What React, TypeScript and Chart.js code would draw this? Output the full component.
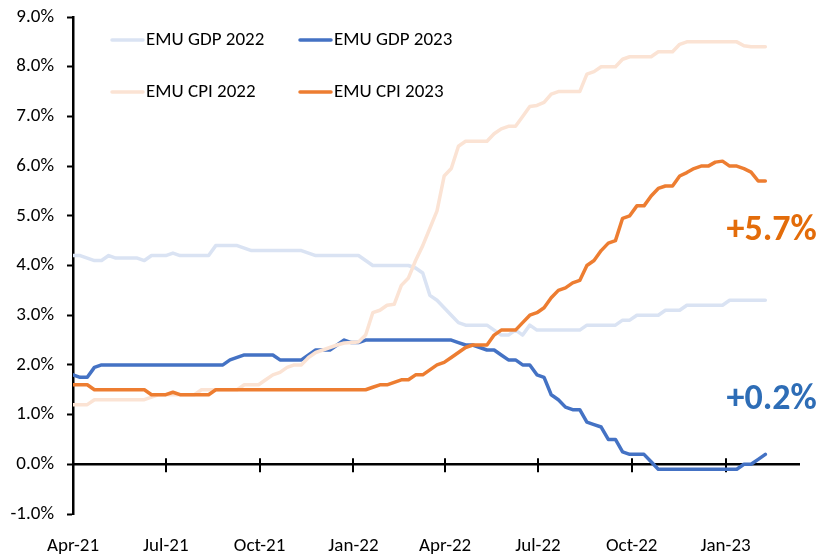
import React, { useEffect, useRef } from "react";
import { Chart, registerables } from "chart.js";

Chart.register(...registerables);

const FONT = "Carlito, Calibri, 'Liberation Sans Narrow', 'Liberation Sans', sans-serif";

const startDate = "2021-04-01";
const tickDates = ["2021-04-01", "2021-07-01", "2021-10-01", "2022-01-01", "2022-04-01", "2022-07-01", "2022-10-01", "2023-01-01"];
const tickLabels = ["Apr-21", "Jul-21", "Oct-21", "Jan-22", "Apr-22", "Jul-22", "Oct-22", "Jan-23"];
const axisEndDate = "2023-03-15";

const seriesLabels = ["EMU GDP 2022", "EMU GDP 2023", "EMU CPI 2022", "EMU CPI 2023"];
const seriesColors = ["#DAE3F3", "#4472C4", "#FBE3D4", "#ED7D31"];

const gdp2022 = [
  4.2, 4.2, 4.15, 4.1, 4.1, 4.2, 4.15, 4.15, 4.15, 4.15,
  4.1, 4.2, 4.2, 4.2, 4.25, 4.2, 4.2, 4.2, 4.2, 4.2,
  4.4, 4.4, 4.4, 4.4, 4.35, 4.3, 4.3, 4.3, 4.3, 4.3,
  4.3, 4.3, 4.3, 4.25, 4.2, 4.2, 4.2, 4.2, 4.2, 4.2,
  4.2, 4.1, 4.0, 4.0, 4.0, 4.0, 4.0, 4.0, 3.95, 3.85,
  3.4, 3.3, 3.15, 3.0, 2.85, 2.8, 2.8, 2.8, 2.8, 2.7,
  2.6, 2.6, 2.7, 2.6, 2.8, 2.7, 2.7, 2.7, 2.7, 2.7,
  2.7, 2.7, 2.8, 2.8, 2.8, 2.8, 2.8, 2.9, 2.9, 3.0,
  3.0, 3.0, 3.0, 3.1, 3.1, 3.1, 3.2, 3.2, 3.2, 3.2,
  3.2, 3.2, 3.3, 3.3, 3.3, 3.3, 3.3, 3.3,
];

const gdp2023 = [
  1.8, 1.75, 1.75, 1.95, 2.0, 2.0, 2.0, 2.0, 2.0, 2.0,
  2.0, 2.0, 2.0, 2.0, 2.0, 2.0, 2.0, 2.0, 2.0, 2.0,
  2.0, 2.0, 2.1, 2.15, 2.2, 2.2, 2.2, 2.2, 2.2, 2.1,
  2.1, 2.1, 2.1, 2.2, 2.3, 2.3, 2.3, 2.4, 2.5, 2.45,
  2.45, 2.5, 2.5, 2.5, 2.5, 2.5, 2.5, 2.5, 2.5, 2.5,
  2.5, 2.5, 2.5, 2.5, 2.45, 2.4, 2.4, 2.35, 2.3, 2.3,
  2.2, 2.1, 2.1, 2.0, 2.0, 1.8, 1.75, 1.4, 1.3, 1.15,
  1.1, 1.1, 0.85, 0.8, 0.75, 0.5, 0.5, 0.25, 0.2, 0.2,
  0.2, 0.05, -0.1, -0.1, -0.1, -0.1, -0.1, -0.1, -0.1, -0.1,
  -0.1, -0.1, -0.1, -0.1, 0.0, 0.0, 0.1, 0.2,
];

const cpi2022 = [
  1.2, 1.2, 1.2, 1.3, 1.3, 1.3, 1.3, 1.3, 1.3, 1.3,
  1.3, 1.35, 1.4, 1.4, 1.4, 1.4, 1.4, 1.4, 1.5, 1.5,
  1.5, 1.5, 1.5, 1.5, 1.6, 1.6, 1.6, 1.7, 1.8, 1.85,
  1.95, 2.0, 2.0, 2.15, 2.25, 2.3, 2.35, 2.4, 2.44, 2.45,
  2.46, 2.6, 3.05, 3.1, 3.2, 3.22, 3.6, 3.75, 4.1, 4.4,
  4.75, 5.1, 5.8, 5.95, 6.4, 6.5, 6.5, 6.5, 6.5, 6.65,
  6.75, 6.8, 6.8, 7.0, 7.2, 7.22, 7.28, 7.45, 7.5, 7.5,
  7.5, 7.5, 7.85, 7.9, 8.0, 8.0, 8.0, 8.15, 8.2, 8.2,
  8.2, 8.2, 8.3, 8.3, 8.3, 8.45, 8.5, 8.5, 8.5, 8.5,
  8.5, 8.5, 8.5, 8.5, 8.42, 8.4, 8.4, 8.4,
];

const cpi2023 = [
  1.6, 1.6, 1.6, 1.5, 1.5, 1.5, 1.5, 1.5, 1.5, 1.5,
  1.5, 1.4, 1.4, 1.4, 1.45, 1.4, 1.4, 1.4, 1.4, 1.4,
  1.5, 1.5, 1.5, 1.5, 1.5, 1.5, 1.5, 1.5, 1.5, 1.5,
  1.5, 1.5, 1.5, 1.5, 1.5, 1.5, 1.5, 1.5, 1.5, 1.5,
  1.5, 1.5, 1.55, 1.6, 1.6, 1.65, 1.7, 1.7, 1.8, 1.8,
  1.9, 2.0, 2.05, 2.15, 2.25, 2.35, 2.4, 2.4, 2.4, 2.6,
  2.7, 2.7, 2.7, 2.85, 3.0, 3.05, 3.15, 3.35, 3.5, 3.55,
  3.65, 3.7, 4.0, 4.1, 4.3, 4.45, 4.5, 4.95, 5.0, 5.2,
  5.2, 5.4, 5.55, 5.6, 5.6, 5.8, 5.87, 5.95, 6.0, 6.0,
  6.08, 6.1, 6.0, 6.0, 5.95, 5.88, 5.7, 5.7,
];

const annotationTexts = ["+5.7%", "+0.2%"];
const annotationColors = ["#E36C0A", "#2E6DB6"];
const annotationValues = [4.7, 1.3];

const DAY = 86400000;
const dayOf = (d: string) => Math.round((Date.parse(d) - Date.parse(startDate)) / DAY);
const tickDays = tickDates.map(dayOf);

const toPoints = (vals: number[]) => vals.map((v, i) => ({ x: i * 7, y: v }));

const zeroAxisPlugin = {
  id: "zeroAxis",
  beforeDatasetsDraw(chart: any) {
    const { ctx, chartArea, scales } = chart;
    const y0 = scales.y.getPixelForValue(0);
    ctx.save();
    ctx.strokeStyle = "#000";
    ctx.lineWidth = 2.5;
    ctx.beginPath();
    ctx.moveTo(chartArea.left, y0);
    ctx.lineTo(chartArea.right, y0);
    ctx.stroke();
    ctx.lineWidth = 2;
    tickDays.forEach((d) => {
      if (d === 0) return;
      const x = Math.round(scales.x.getPixelForValue(d));
      ctx.beginPath();
      ctx.moveTo(x, y0 - 6);
      ctx.lineTo(x, y0 + 8);
      ctx.stroke();
    });
    ctx.restore();
  },
};

const legendPlugin = {
  id: "cornerLegend",
  afterDatasetsDraw(chart: any) {
    const { ctx, chartArea } = chart;
    ctx.save();
    ctx.font = `19px ${FONT}`;
    ctx.textBaseline = "middle";
    ctx.textAlign = "left";
    chart.data.datasets.forEach((ds: any, i: number) => {
      const col = i % 2;
      const row = Math.floor(i / 2);
      const x = chartArea.left + 39 + col * 188;
      const y = chartArea.top + 23 + row * 52;
      ctx.strokeStyle = ds.borderColor;
      ctx.lineWidth = 3.5;
      ctx.lineCap = "round";
      ctx.beginPath();
      ctx.moveTo(x, y);
      ctx.lineTo(x + 31, y);
      ctx.stroke();
      ctx.fillStyle = "#000";
      ctx.fillText(ds.label, x + 34, y);
    });
    ctx.restore();
  },
};

const annotationPlugin = {
  id: "endLabels",
  afterDraw(chart: any) {
    const { ctx, scales } = chart;
    ctx.save();
    ctx.font = `bold 36px ${FONT}`;
    ctx.textBaseline = "middle";
    ctx.textAlign = "left";
    const x = scales.x.getPixelForValue(tickDays[tickDays.length - 1]) + 1;
    annotationTexts.forEach((t, i) => {
      ctx.fillStyle = annotationColors[i];
      ctx.fillText(t, x, scales.y.getPixelForValue(annotationValues[i]));
    });
    ctx.restore();
  },
};

export default function App() {
  const canvasRef = useRef<HTMLCanvasElement | null>(null);

  useEffect(() => {
    document.body.style.margin = "0";
    const canvas = canvasRef.current;
    if (!canvas) return;
    const series = [gdp2022, gdp2023, cpi2022, cpi2023];
    const chart = new Chart(canvas, {
      type: "line",
      data: {
        datasets: series.map((vals, i) => ({
          label: seriesLabels[i],
          data: toPoints(vals),
          borderColor: seriesColors[i],
          backgroundColor: seriesColors[i],
          borderWidth: 3.5,
          pointRadius: 0,
          tension: 0,
          borderJoinStyle: "round" as const,
          borderCapStyle: "round" as const,
          order: series.length - i,
        })),
      },
      options: {
        responsive: false,
        animation: false,
        devicePixelRatio: 1,
        layout: { padding: { top: 17, right: 21, left: 0, bottom: 0 } },
        plugins: { legend: { display: false }, tooltip: { enabled: false } },
        scales: {
          x: {
            type: "linear",
            min: 0,
            max: dayOf(axisEndDate),
            grid: { display: false },
            border: { display: false },
            afterBuildTicks: (scale: any) => {
              scale.ticks = tickDays.map((v) => ({ value: v }));
            },
            afterFit: (scale: any) => {
              scale.height = 40;
              scale.paddingLeft = 0;
              scale.paddingRight = 0;
            },
            ticks: {
              autoSkip: false,
              maxRotation: 0,
              padding: 13,
              color: "#000",
              font: { family: FONT, size: 19 },
              callback: (v: any) => {
                const idx = tickDays.indexOf(Number(v));
                return idx >= 0 ? tickLabels[idx] : "";
              },
            },
          },
          y: {
            min: -1,
            max: 9,
            grid: { drawOnChartArea: false, tickLength: 6, tickColor: "#000", tickWidth: 2 },
            border: { display: true, color: "#000", width: 2.5 },
            afterFit: (scale: any) => {
              scale.width = 73;
              scale.paddingTop = 0;
              scale.paddingBottom = 0;
            },
            ticks: {
              stepSize: 1,
              padding: 13,
              color: "#000",
              font: { family: FONT, size: 19 },
              callback: (v: any) => Number(v).toFixed(1) + "%",
            },
          },
        },
      },
      plugins: [zeroAxisPlugin, legendPlugin, annotationPlugin],
    });
    return () => chart.destroy();
  }, []);

  return (
    <div style={{ width: 821, height: 554, position: "relative", background: "#fff" }}>
      <canvas ref={canvasRef} width={821} height={554} style={{ display: "block" }} />
    </div>
  );
}
